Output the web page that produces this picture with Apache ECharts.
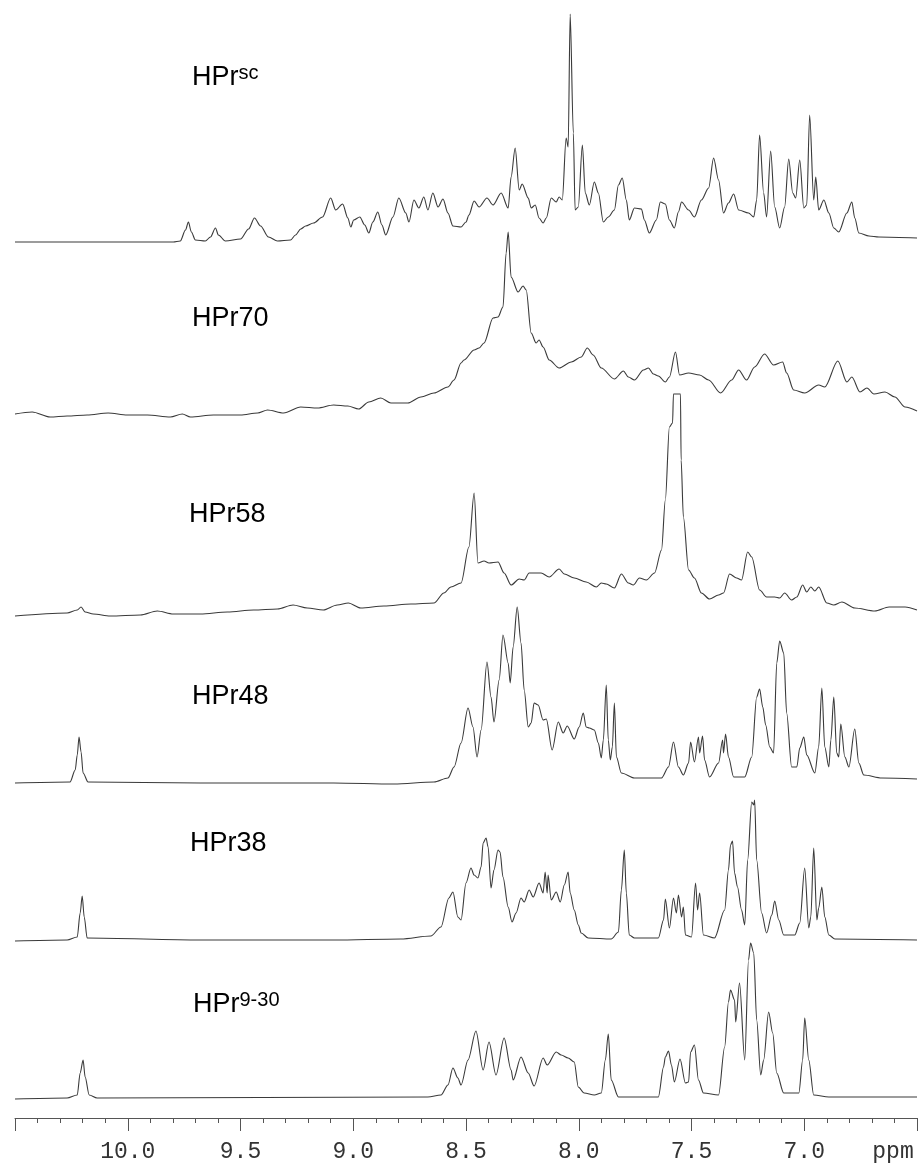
<!DOCTYPE html>
<html>
<head>
<meta charset="utf-8">
<script src="https://cdn.jsdelivr.net/npm/echarts@6/dist/echarts.min.js"></script>
<style>
html,body{margin:0;padding:0;background:#fff;}
#chart{width:921px;height:1163px;}
</style>
</head>
<body>
<div id="chart"></div>
<script>
// ---- data: [chemical shift (ppm), intensity] ----
var specSC = [[10.5,0],[9.798,0],[9.767,1],[9.744,12],[9.731,20],[9.718,10],[9.700,2],[9.656,1],[9.633,5],[9.611,14],[9.598,7],[9.567,1],[9.500,3],[9.464,13],[9.438,24],[9.411,16],[9.376,5],[9.336,1],[9.278,2],[9.256,7],[9.233,13],[9.211,16],[9.176,19],[9.136,25],[9.100,44],[9.078,32],[9.047,38],[9.024,24],[9.011,15],[8.998,22],[8.971,25],[8.949,17],[8.931,9],[8.913,20],[8.891,30],[8.873,17],[8.856,7],[8.824,25],[8.798,44],[8.767,29],[8.753,20],[8.731,42],[8.709,34],[8.687,45],[8.669,32],[8.647,49],[8.624,35],[8.602,43],[8.580,29],[8.558,16],[8.522,15],[8.500,20],[8.487,27],[8.464,41],[8.442,35],[8.407,44],[8.380,37],[8.344,49],[8.313,34],[8.300,65],[8.282,94],[8.264,52],[8.251,58],[8.224,44],[8.211,34],[8.193,37],[8.176,24],[8.158,19],[8.144,24],[8.122,44],[8.100,40],[8.087,45],[8.073,42],[8.056,104],[8.047,95],[8.038,228],[8.024,109],[8.016,32],[8.002,35],[7.984,97],[7.971,49],[7.953,37],[7.931,60],[7.913,49],[7.891,20],[7.869,25],[7.842,32],[7.824,57],[7.807,64],[7.789,42],[7.776,22],[7.753,34],[7.722,33],[7.709,22],[7.687,9],[7.656,22],[7.638,40],[7.616,38],[7.598,22],[7.576,14],[7.558,30],[7.544,40],[7.513,32],[7.487,25],[7.456,42],[7.424,54],[7.402,84],[7.380,62],[7.358,29],[7.336,39],[7.313,48],[7.291,32],[7.247,29],[7.224,25],[7.211,42],[7.198,107],[7.180,49],[7.167,25],[7.149,91],[7.131,35],[7.109,14],[7.087,35],[7.069,83],[7.051,49],[7.038,44],[7.020,82],[7.002,34],[6.989,37],[6.976,127],[6.958,42],[6.949,65],[6.936,32],[6.913,42],[6.891,29],[6.869,14],[6.847,10],[6.811,29],[6.789,40],[6.776,24],[6.758,9],[6.713,6],[6.669,5],[6.5,4]];

var spec70 = [[10.5,0],[10.424,2],[10.344,-3],[10.269,-2],[10.180,-1],[10.087,1],[10.002,-1],[9.913,-1],[9.811,-3],[9.758,0],[9.722,-3],[9.620,-1],[9.500,-1],[9.424,1],[9.380,4],[9.309,1],[9.233,7],[9.158,6],[9.087,9],[9.024,8],[8.976,5],[8.931,12],[8.878,16],[8.833,11],[8.758,11],[8.700,17],[8.642,21],[8.580,27],[8.553,34],[8.522,51],[8.509,54],[8.464,64],[8.442,66],[8.420,71],[8.380,96],[8.358,97],[8.336,107],[8.322,161],[8.313,182],[8.300,137],[8.269,122],[8.247,128],[8.233,124],[8.211,81],[8.189,71],[8.176,74],[8.158,67],[8.131,54],[8.087,46],[8.033,52],[7.989,57],[7.962,66],[7.936,59],[7.900,46],[7.842,35],[7.802,43],[7.780,37],[7.753,34],[7.713,44],[7.691,46],[7.669,40],[7.647,38],[7.616,32],[7.598,37],[7.571,62],[7.553,39],[7.513,41],[7.464,39],[7.424,34],[7.371,21],[7.322,34],[7.291,44],[7.256,34],[7.220,47],[7.176,60],[7.136,49],[7.096,52],[7.078,41],[7.047,24],[6.998,21],[6.936,29],[6.909,27],[6.851,53],[6.811,32],[6.789,37],[6.753,22],[6.722,26],[6.691,20],[6.642,22],[6.598,17],[6.553,7],[6.5,3]];

var spec58 = [[10.5,-1],[10.269,2],[10.224,5],[10.207,8],[10.189,3],[10.153,1],[10.078,-1],[9.944,0],[9.869,4],[9.798,1],[9.678,1],[9.558,3],[9.442,5],[9.336,6],[9.267,10],[9.204,7],[9.133,5],[9.071,10],[9.022,12],[8.967,7],[8.864,9],[8.744,11],[8.642,12],[8.598,22],[8.567,28],[8.522,32],[8.487,68],[8.464,122],[8.447,52],[8.420,54],[8.398,52],[8.358,53],[8.331,42],[8.300,30],[8.264,36],[8.242,35],[8.220,42],[8.167,42],[8.131,38],[8.087,46],[8.064,41],[8.020,37],[7.967,33],[7.922,28],[7.900,32],[7.878,31],[7.842,27],[7.811,41],[7.780,32],[7.758,30],[7.731,37],[7.700,35],[7.664,42],[7.633,65],[7.616,115],[7.598,188],[7.584,192],[7.580,221],[7.549,221],[7.546,155],[7.536,98],[7.513,45],[7.487,37],[7.456,22],[7.420,16],[7.380,20],[7.358,22],[7.331,41],[7.300,37],[7.278,35],[7.251,63],[7.233,58],[7.198,25],[7.167,18],[7.131,18],[7.109,17],[7.087,22],[7.056,15],[7.033,18],[7.007,30],[6.989,23],[6.971,28],[6.953,24],[6.936,28],[6.900,12],[6.869,10],[6.833,13],[6.776,7],[6.687,4],[6.624,8],[6.553,8],[6.5,5]];

var spec48 = [[10.5,0],[10.256,1],[10.233,13],[10.224,28],[10.216,46],[10.207,31],[10.198,10],[10.176,1],[9.678,0],[9.087,0],[8.820,-1],[8.642,1],[8.580,5],[8.553,16],[8.522,40],[8.491,75],[8.469,56],[8.451,26],[8.433,53],[8.407,121],[8.389,86],[8.376,61],[8.353,103],[8.336,148],[8.313,120],[8.304,100],[8.291,136],[8.273,176],[8.256,140],[8.242,93],[8.224,56],[8.211,60],[8.198,80],[8.180,78],[8.158,63],[8.144,64],[8.118,33],[8.091,61],[8.069,50],[8.051,57],[8.020,44],[7.998,56],[7.980,70],[7.967,56],[7.953,55],[7.931,53],[7.913,40],[7.900,25],[7.891,43],[7.878,98],[7.869,43],[7.860,23],[7.851,36],[7.842,80],[7.833,26],[7.811,10],[7.753,5],[7.633,5],[7.602,16],[7.580,41],[7.558,16],[7.536,8],[7.513,20],[7.504,41],[7.487,21],[7.469,46],[7.464,30],[7.451,47],[7.442,23],[7.420,6],[7.380,20],[7.362,43],[7.358,30],[7.349,49],[7.336,26],[7.313,6],[7.264,6],[7.233,26],[7.211,86],[7.198,94],[7.184,76],[7.171,58],[7.153,36],[7.136,30],[7.122,120],[7.109,142],[7.091,130],[7.078,70],[7.056,16],[7.033,16],[7.020,35],[7.002,46],[6.989,28],[6.953,10],[6.936,36],[6.922,95],[6.909,36],[6.891,16],[6.882,43],[6.869,86],[6.856,30],[6.847,26],[6.838,59],[6.820,26],[6.802,16],[6.776,54],[6.758,20],[6.736,8],[6.656,5],[6.5,4]];

var spec38 = [[10.5,-1],[10.269,0],[10.224,3],[10.211,27],[10.202,44],[10.193,23],[10.180,2],[9.678,0],[9.087,0],[8.789,1],[8.656,4],[8.611,13],[8.576,42],[8.558,48],[8.536,23],[8.522,20],[8.500,57],[8.478,72],[8.464,65],[8.447,62],[8.433,73],[8.424,97],[8.411,102],[8.402,93],[8.389,52],[8.376,70],[8.358,90],[8.349,88],[8.336,63],[8.313,33],[8.296,18],[8.278,27],[8.256,42],[8.242,38],[8.220,50],[8.202,43],[8.176,57],[8.158,47],[8.149,68],[8.140,47],[8.136,65],[8.122,40],[8.100,48],[8.082,38],[8.064,55],[8.047,68],[8.038,47],[8.020,30],[8.002,15],[7.989,7],[7.958,2],[7.856,1],[7.824,8],[7.811,50],[7.798,90],[7.789,47],[7.776,5],[7.753,2],[7.647,2],[7.624,20],[7.616,41],[7.598,12],[7.580,42],[7.567,27],[7.558,45],[7.544,23],[7.536,33],[7.527,5],[7.500,3],[7.482,57],[7.473,30],[7.464,47],[7.447,5],[7.398,2],[7.353,30],[7.336,70],[7.327,95],[7.318,99],[7.309,67],[7.296,53],[7.278,30],[7.264,15],[7.251,80],[7.233,138],[7.224,135],[7.220,140],[7.211,80],[7.189,27],[7.167,7],[7.144,25],[7.131,39],[7.113,20],[7.091,5],[7.042,5],[7.020,17],[6.998,72],[6.980,12],[6.971,23],[6.958,92],[6.944,20],[6.936,32],[6.922,53],[6.909,23],[6.891,5],[6.864,1],[6.5,0]];

var spec930 = [[10.5,-1],[10.269,0],[10.224,3],[10.211,25],[10.198,38],[10.189,21],[10.171,3],[10.136,0],[8.669,1],[8.611,3],[8.580,13],[8.558,30],[8.536,20],[8.522,13],[8.491,38],[8.456,67],[8.424,28],[8.398,56],[8.367,23],[8.331,60],[8.300,28],[8.291,18],[8.256,41],[8.224,25],[8.198,12],[8.158,40],[8.140,33],[8.100,46],[8.078,43],[8.047,40],[8.020,36],[8.002,11],[7.976,5],[7.931,3],[7.900,5],[7.882,38],[7.869,64],[7.856,18],[7.824,1],[7.647,1],[7.624,31],[7.616,41],[7.602,47],[7.589,33],[7.576,16],[7.551,39],[7.527,15],[7.513,16],[7.504,46],[7.487,53],[7.469,18],[7.447,5],[7.380,3],[7.353,51],[7.336,96],[7.327,108],[7.309,98],[7.304,76],[7.287,115],[7.264,38],[7.247,138],[7.238,155],[7.224,145],[7.211,78],[7.193,23],[7.180,38],[7.158,86],[7.140,65],[7.122,25],[7.091,5],[7.024,5],[7.007,38],[6.998,80],[6.980,38],[6.958,3],[6.891,1],[6.5,1]];

var spectra = [specSC, spec70, spec58, spec48, spec38, spec930];
var labelMain = ['HPr', 'HPr70', 'HPr58', 'HPr48', 'HPr38', 'HPr'];
var labelSup  = ['sc', '', '', '', '', '9-30'];
var axisMin = 6.5, axisMax = 10.5, axisStep = 0.5;
var axisUnit = 'ppm';

// ---- layout (pixels) ----
var baselines = [242, 414, 615, 783, 940, 1098];
var labelY = [78, 319, 515, 697, 844, 1005];
var labelX = [192, 192, 189, 192, 190, 193];
var above = 240, below = 20;

var grids = [], xAxes = [], yAxes = [], series = [], graphics = [];
spectra.forEach(function (d, i) {
  var last = i === spectra.length - 1;
  grids.push({ left: 15, right: 4, top: baselines[i] - above, height: above + below });
  xAxes.push({
    type: 'value', gridIndex: i, min: axisMin, max: axisMax, interval: axisStep,
    inverse: true, show: last,
    axisLine: { show: last, onZero: false, lineStyle: { color: '#555', width: 1 } },
    axisTick: { show: last, length: 13, lineStyle: { color: '#555', width: 1 } },
    minorTick: { show: last, splitNumber: 5, length: 5, lineStyle: { color: '#555', width: 1 } },
    splitLine: { show: false },
    axisLabel: {
      show: last, margin: 22, color: '#333', fontFamily: 'Liberation Mono', fontSize: 23,
      formatter: function (v) {
        if (Math.abs(v - axisMin) < 1e-6 || Math.abs(v - axisMax) < 1e-6) return '';
        return v.toFixed(1);
      }
    }
  });
  yAxes.push({ type: 'value', gridIndex: i, min: -below, max: above, show: false });
  series.push({
    type: 'line', xAxisIndex: i, yAxisIndex: i, data: d, showSymbol: false,
    symbol: 'none', clip: false, smooth: 0.3, smoothMonotone: 'x',
    lineStyle: { color: '#3a3a3a', width: 1.1 }
  });
  graphics.push({
    type: 'text', x: labelX[i], y: labelY[i],
    style: {
      text: '{m|' + labelMain[i] + '}' + (labelSup[i] ? '{s|' + labelSup[i] + '}' : ''),
      align: 'left', verticalAlign: 'middle', fill: '#000',
      rich: {
        m: { fontFamily: 'Liberation Sans', fontSize: 27, fill: '#000' },
        s: { fontFamily: 'Liberation Sans', fontSize: 20, fill: '#000', padding: [0, 0, 9, 0] }
      }
    }
  });
});
graphics.push({
  type: 'text', x: 893, y: 1152,
  style: { text: axisUnit, align: 'center', verticalAlign: 'middle', fill: '#333',
           fontFamily: 'Liberation Mono', fontSize: 23 }
});

var chart = echarts.init(document.getElementById('chart'), null, { renderer: 'canvas' });
chart.setOption({
  animation: false,
  backgroundColor: '#fff',
  grid: grids, xAxis: xAxes, yAxis: yAxes, series: series, graphic: graphics
});
</script>
</body>
</html>
